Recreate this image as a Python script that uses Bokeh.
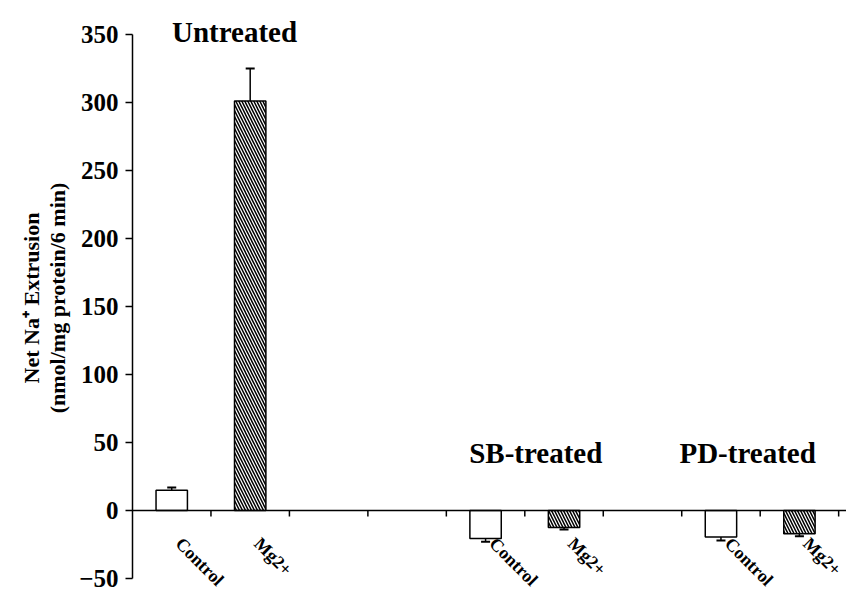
import math
from bokeh.plotting import figure
from bokeh.models import ColumnDataSource, Range1d, FixedTicker, Span, Label
from bokeh.embed import file_html
from bokeh.resources import INLINE
from bokeh.core.properties import value

# ---- data ----
n_slots = 9
bar_slots = [0, 1, 4, 5, 7, 8]
bar_labels = ["Control", "Mg2+", "Control", "Mg2+", "Control", "Mg2+"]
bar_values = [15, 301, -20.5, -12.5, -19.5, -17]
bar_errors = [2, 24, 2.5, 1.5, 2.5, 2]
bar_kind = ["control", "mg", "control", "mg", "control", "mg"]
group_titles = ["Untreated", "SB-treated", "PD-treated"]
y_title_lines = ["Net Na\u207a Extrusion", "(nmol/mg protein/6 min)"]
y_ticks = [-50, 0, 50, 100, 150, 200, 250, 300, 350]

FONT = "Liberation Serif"

centers = [s + 0.5 for s in bar_slots]
err_end = [v + (e if v >= 0 else -e) for v, e in zip(bar_values, bar_errors)]

W, H = 846, 595
LEFT = 132
p = figure(width=W, height=H, output_backend="svg", toolbar_location=None,
           x_range=Range1d(0, 9.1), y_range=Range1d(-61.0, 373.5),
           min_border_left=LEFT, min_border_right=0, min_border_top=2,
           min_border_bottom=2)
p.xaxis.visible = False
p.grid.visible = False
p.outline_line_color = None
p.background_fill_color = "white"
p.border_fill_color = "white"

yax = p.yaxis[0]
yax.ticker = FixedTicker(ticks=y_ticks)
yax.bounds = (y_ticks[0], y_ticks[-1])
yax.axis_line_width = 1.5
yax.axis_line_color = "black"
yax.major_tick_line_width = 1.5
yax.major_tick_out = 7
yax.major_tick_in = 0
yax.minor_tick_line_color = None
yax.major_label_text_font = FONT
yax.major_label_text_font_style = "bold"
yax.major_label_text_font_size = "25px"
yax.major_label_text_color = "black"
yax.major_label_standoff = 7
yax.axis_label = "\n".join(y_title_lines)
yax.axis_label_text_font = FONT
yax.axis_label_text_font_style = "bold"
yax.axis_label_text_font_size = "22px"
yax.axis_label_text_line_height = 1.05
yax.axis_label_text_color = "black"
yax.axis_label_standoff = 6

# baseline at zero
p.add_layout(Span(location=0, dimension="width", line_color="black", line_width=1.5))

# x ticks at slot boundaries (pointing down)
bounds = list(range(1, n_slots + 1))
p.segment(x0=bounds, y0=[0] * len(bounds), x1=bounds, y1=[-4.4] * len(bounds),
          line_color="black", line_width=1.5)

src = ColumnDataSource(dict(x=centers, top=bar_values, label=bar_labels,
                            kind=bar_kind, err=err_end))
ctrl = ColumnDataSource(dict(x=[c for c, k in zip(centers, bar_kind) if k == "control"],
                             top=[v for v, k in zip(bar_values, bar_kind) if k == "control"]))
mg = ColumnDataSource(dict(x=[c for c, k in zip(centers, bar_kind) if k == "mg"],
                           top=[v for v, k in zip(bar_values, bar_kind) if k == "mg"]))

# error bars
p.segment(x0="x", y0="top", x1="x", y1="err", source=src, line_color="black", line_width=1.5)
p.scatter(x="x", y="err", source=src, marker="dash", size=9, line_color="black", line_width=2)

p.vbar(x="x", top="top", bottom=0, width=0.4, source=ctrl, fill_color="white",
       line_color="black", line_width=1.5)
p.vbar(x="x", top="top", bottom=0, width=0.4, source=mg, fill_color="white",
       hatch_pattern="\\", hatch_color="black", hatch_weight=1.5, hatch_scale=6,
       line_color="black", line_width=1.5)

# category labels
p.text(x="x", y=0, text="label", source=src, angle=-math.pi / 4,
       text_align="left", text_baseline="top", x_offset=14, y_offset=23,
       text_font=value(FONT), text_font_style="bold", text_font_size="18px",
       text_color="black")

# group titles
title_pos = [(1.30, 351.5), (5.14, 42.6), (7.84, 42.6)]
for t, (tx, ty) in zip(group_titles, title_pos):
    p.add_layout(Label(x=tx, y=ty, text=t, text_align="center",
                       text_baseline="alphabetic", text_font=FONT,
                       text_font_style="bold", text_font_size="29px", text_color="black"))

open("out.html", "w").write(file_html(p, INLINE))
